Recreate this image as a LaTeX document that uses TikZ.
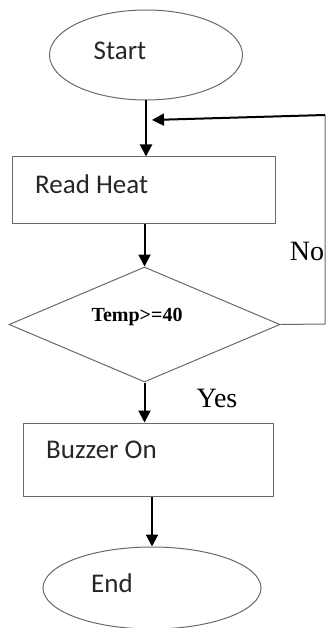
\documentclass[tikz,border=0pt]{standalone}
\usepackage{fontspec}
\setmainfont{Liberation Serif}
\newfontfamily\calfont{Carlito}
\usetikzlibrary{shapes.geometric,arrows.meta}
\definecolor{edgegray}{RGB}{105,105,105}
\begin{document}
\begin{tikzpicture}[x=1pt,y=-1pt,
  outline/.style={draw=edgegray,line width=1pt,inner sep=0pt},
  term/.style={outline,ellipse},
  proc/.style={outline,rectangle},
  decision/.style={outline,diamond},
  txt/.style={font=\calfont\fontsize{27}{30}\selectfont,text=black!85,inner sep=0pt},
  lbl/.style={font=\fontsize{28}{30}\selectfont,inner sep=0pt},
  flow/.style={line width=2pt,-{Triangle[width=12pt,length=12pt]}},
  thinline/.style={draw=edgegray,line width=1pt},
]
\useasboundingbox (0,0) rectangle (328,628);
% shapes
\node[term,minimum width=193pt,minimum height=90pt] (start) at (146,55) {};
\node[txt] (starttxt) at (120,51) {Start};
\node[proc,minimum width=263pt,minimum height=66pt] (read) at (143.5,190) {};
\node[txt,anchor=west] (readtxt) at (35,184) {Read Heat};
\node[decision,minimum width=271pt,minimum height=115pt] (dec) at (144.5,324.5) {};
\node[font=\fontsize{20}{22}\selectfont\bfseries,inner sep=0pt] (dectxt) at (137,317) {Temp>=40};
\node[proc,minimum width=250pt,minimum height=73pt] (buzz) at (148,459.5) {};
\node[txt,anchor=west] (buzztxt) at (46,450) {Buzzer On};
\node[term,minimum width=218pt,minimum height=82pt] (stop) at (152,588) {};
\node[txt] (stoptxt) at (112,583) {End};
% labels
\node[lbl] (nolbl) at (307,251) {No};
\node[lbl] (yeslbl) at (217,398) {Yes};
% connectors
\draw[flow] (start.south) -- (start.south |- read.north);
\draw[flow] (dec.north |- read.south) -- (dec.north);
\draw[flow] (dec.south) -- (dec.south |- buzz.north);
\draw[flow] (stop.north |- buzz.south) -- (stop.north);
\coordinate (c1) at (325,324);
\coordinate (c2) at (325,115);
\coordinate (fbtip) at (152,120);
\draw[thinline] (dec.east) -- (c1) -- (c2);
\draw[flow] (c2) -- (fbtip);
\end{tikzpicture}
\end{document}
